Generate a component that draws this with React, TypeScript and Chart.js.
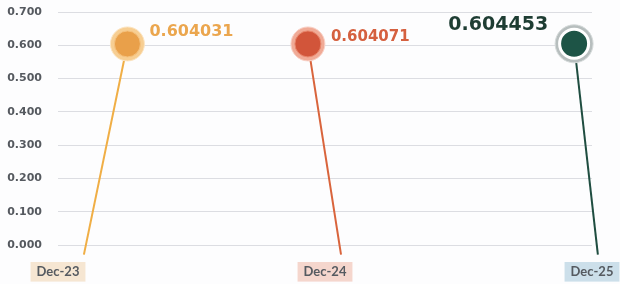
import React, { useEffect, useRef } from 'react';
import { Chart, registerables } from 'chart.js';

Chart.register(...registerables);

// ---- data ----
const categories = ['Dec-23', 'Dec-24', 'Dec-25'];
const values = [0.604031, 0.604071, 0.604453];
const yMin = 0;
const yMax = 0.7;
const yStep = 0.1;

// ---- layout / style (not data) ----
const headShift = [0.26, -0.064, -0.067]; // head offset from category slot
const footShift = [0.097, 0.06, 0.022]; // foot offset from category slot
const footLevel = -0.029;
const lineColors = ['#F0AE45', '#D9643C', '#1F4D40'];
const coreColors = ['#E9A04A', '#D2553A', '#1D5446'];
const coreBorder = ['#F5C27F', '#E8866C', '#FFFFFF'];
const coreBorderW = [1, 1, 3];
const coreRadius = [13, 13, 14.5];
const haloColors = ['#F7CE92', '#F0AA96', '#B7BEBE'];
const haloBorder = ['#FBE4C2', '#F8D2C8', '#D5DADA'];
const haloRadius = [17, 17, 19];
const labelBg = ['#F6E6D2', '#F5D6CD', '#CCDFEA'];
const valueStyle = [
  { color: '#EBA64E', size: 16, align: 'left', dx: 22, dy: -12 },
  { color: '#D5603F', size: 15, align: 'left', dx: 23, dy: -7 },
  { color: '#1E3D33', size: 19, align: 'right', dx: -26, dy: -19 },
];

const valueLabels = {
  id: 'valueLabels',
  afterDatasetsDraw(chart: any) {
    const xs = chart.scales.x;
    const ys = chart.scales.y;
    const ctx = chart.ctx;
    values.forEach((v, i) => {
      const st = valueStyle[i];
      const px = xs.getPixelForValue(i + headShift[i]);
      const py = ys.getPixelForValue(v);
      ctx.save();
      ctx.font = `bold ${st.size}px "DejaVu Sans", sans-serif`;
      ctx.fillStyle = st.color;
      ctx.textAlign = st.align;
      ctx.textBaseline = 'middle';
      ctx.fillText(v.toFixed(6), px + st.dx, py + st.dy);
      ctx.restore();
    });
  },
};

export default function App() {
  const ref = useRef<HTMLCanvasElement>(null);

  useEffect(() => {
    const lineSets = values.map((v, i) => ({
      data: [
        { x: i + footShift[i], y: footLevel },
        { x: i + headShift[i], y: v },
      ],
      showLine: true,
      borderColor: lineColors[i],
      borderWidth: 2,
      pointRadius: 0,
      clip: false as any,
      order: 3,
    }));
    const heads = values.map((v, i) => ({ x: i + headShift[i], y: v }));

    const chart = new Chart(ref.current!, {
      type: 'scatter',
      data: {
        datasets: [
          ...lineSets,
          {
            data: heads,
            pointRadius: haloRadius,
            pointBackgroundColor: haloColors,
            pointBorderColor: haloBorder,
            pointBorderWidth: 1,
            clip: false as any,
            order: 2,
          },
          {
            data: heads,
            pointRadius: coreRadius,
            pointBackgroundColor: coreColors,
            pointBorderColor: coreBorder,
            pointBorderWidth: coreBorderW,
            clip: false as any,
            order: 1,
          },
        ] as any,
      },
      options: {
        animation: false,
        responsive: true,
        maintainAspectRatio: false,
        events: [],
        layout: { autoPadding: false, padding: { top: 12, right: 28, bottom: 0, left: 0 } },
        plugins: { legend: { display: false }, tooltip: { enabled: false } },
        scales: {
          x: {
            type: 'linear',
            min: 0,
            max: categories.length - 1,
            grid: { display: false, drawTicks: true, tickLength: 19 },
            border: { display: false },
            ticks: {
              stepSize: 1,
              autoSkip: false,
              maxRotation: 0,
              padding: 0,
              callback: (v: any) => categories[Number(v)] ?? '',
              font: { family: 'Lato', size: 13, weight: 'bold' },
              color: '#555A60',
              showLabelBackdrop: true,
              backdropColor: (c: any) => labelBg[c.index] ?? 'transparent',
              backdropPadding: { top: 2, bottom: 2, left: 6, right: 6 },
            } as any,
            afterFit: (s: any) => {
              s.height = 39;
            },
          },
          y: {
            min: yMin,
            max: yMax,
            grid: {
              color: '#DCDDE2',
              drawTicks: true,
              tickLength: 16,
              tickColor: 'rgba(0,0,0,0)',
              lineWidth: 1,
            },
            border: { display: false },
            ticks: {
              stepSize: yStep,
              padding: 0,
              callback: (v: any) => Number(v).toFixed(3),
              font: { family: 'DejaVu Sans', size: 11, weight: 'bold' },
              color: '#55595F',
            },
            afterFit: (s: any) => {
              s.width = 58;
            },
          },
        },
      } as any,
      plugins: [valueLabels],
    });
    return () => chart.destroy();
  }, []);

  return (
    <div style={{ position: 'absolute', left: 0, top: 0, width: 620, height: 284, background: '#FDFDFE' }}>
      <canvas ref={ref} />
    </div>
  );
}
